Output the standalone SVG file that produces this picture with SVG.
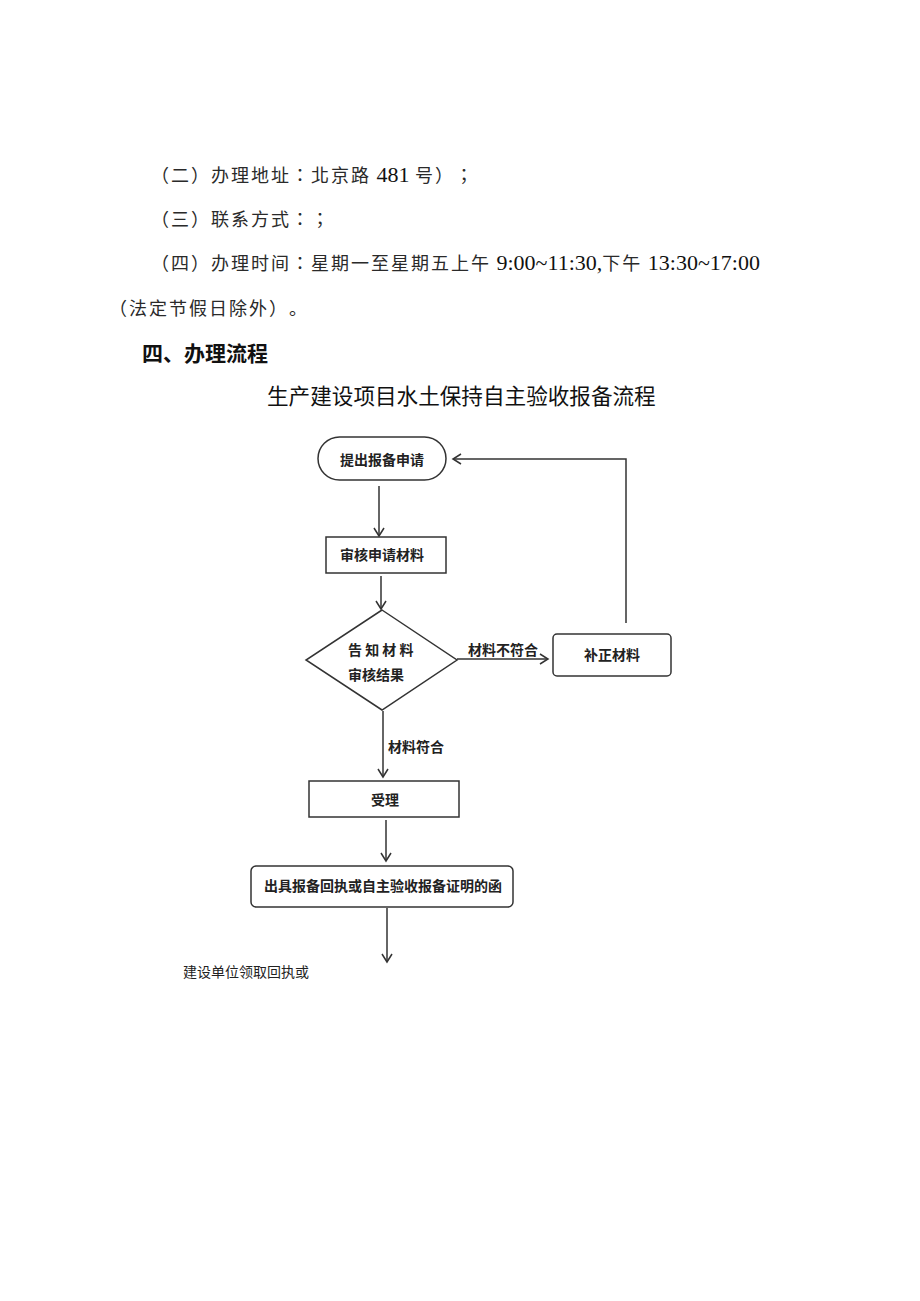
<svg xmlns="http://www.w3.org/2000/svg" width="920" height="1301" viewBox="0 0 920 1301">
<style>
text{text-spacing-trim:space-all}
.body{font-family:"Noto Sans CJK TC","Noto Sans CJK SC",sans-serif;font-size:18px;letter-spacing:2px;fill:#2a2a2a}
.sc{font-family:"Noto Sans CJK SC",sans-serif}
.num{font-family:"Liberation Serif",serif;font-size:22px;letter-spacing:0;fill:#111}
.h{font-family:"Noto Sans CJK SC",sans-serif;font-size:21px;font-weight:bold;fill:#111}
.title{font-family:"Noto Sans CJK SC",sans-serif;font-size:21.6px;fill:#111}
.lbl{font-family:"Noto Sans CJK SC",sans-serif;font-size:14px;font-weight:bold;fill:#222}
.plain{font-family:"Noto Sans CJK SC",sans-serif;font-size:14px;fill:#222}
.shape{fill:#fff;stroke:#333;stroke-width:1.5}
.conn{fill:none;stroke:#333;stroke-width:1.5}
</style>
<defs>
<marker id="arr" markerUnits="userSpaceOnUse" markerWidth="14" markerHeight="14" refX="9" refY="6" orient="auto">
<path d="M1,1 L9,6 L1,11" fill="none" stroke="#333" stroke-width="1.5"/>
</marker>
</defs>
<rect width="920" height="1301" fill="#fff"/>

<g id="text-block">
<text class="body" x="151" y="182">（二）办理地址：北京路<tspan class="num"> 481 </tspan>号）；</text>
<text class="body" x="151" y="226">（三）联系方式：；</text>
<text class="body" x="151" y="270">（四）办理时间：星期一至星期五上午<tspan class="num"> 9:00~11:30,</tspan>下午<tspan class="num"> 13:30~17:00</tspan></text>
<text class="body" x="109" y="315">（法定节假日除外）<tspan class="sc">。</tspan></text>
<text class="h" x="142" y="361">四、办理流程</text>
<text class="title" x="267" y="404">生产建设项目水土保持自主验收报备流程</text>
</g>

<g id="connectors">
<line class="conn" x1="379" y1="486" x2="379" y2="536" marker-end="url(#arr)"/>
<line class="conn" x1="381" y1="576" x2="381" y2="609" marker-end="url(#arr)"/>
<line class="conn" x1="457" y1="659" x2="548" y2="659" marker-end="url(#arr)"/>
<polyline class="conn" points="626,623 626,459 453,459" marker-end="url(#arr)"/>
<line class="conn" x1="383" y1="711" x2="383" y2="777" marker-end="url(#arr)"/>
<line class="conn" x1="386" y1="820" x2="386" y2="861" marker-end="url(#arr)"/>
<line class="conn" x1="387" y1="908" x2="387" y2="962" marker-end="url(#arr)"/>
<text class="lbl" x="468" y="655">材料不符合</text>
<text class="lbl" x="388" y="752">材料符合</text>
</g>

<g id="node-start">
<rect class="shape" x="318" y="437" width="128" height="43" rx="21.5"/>
<text class="lbl" x="382" y="465" text-anchor="middle">提出报备申请</text>
</g>

<g id="node-review">
<rect class="shape" x="326" y="537" width="120" height="36"/>
<text class="lbl" x="382" y="560" text-anchor="middle">审核申请材料</text>
</g>

<g id="node-decision">
<polygon class="shape" points="382,610 457,660 382,710 306,660"/>
<text class="lbl" x="348" y="655">告 知 材 料</text>
<text class="lbl" x="348" y="680">审核结果</text>
</g>

<g id="node-supplement">
<rect class="shape" x="553" y="634" width="118" height="42" rx="4"/>
<text class="lbl" x="612" y="660" text-anchor="middle">补正材料</text>
</g>

<g id="node-accept">
<rect class="shape" x="309" y="781" width="150" height="36"/>
<text class="lbl" x="385" y="805" text-anchor="middle">受理</text>
</g>

<g id="node-issue">
<rect class="shape" x="251" y="866" width="262" height="41" rx="5"/>
<text class="lbl" x="383" y="891" text-anchor="middle">出具报备回执或自主验收报备证明的函</text>
</g>

<g id="footer-text">
<text class="plain" x="183" y="977">建设单位领取回执或</text>
</g>
</svg>
